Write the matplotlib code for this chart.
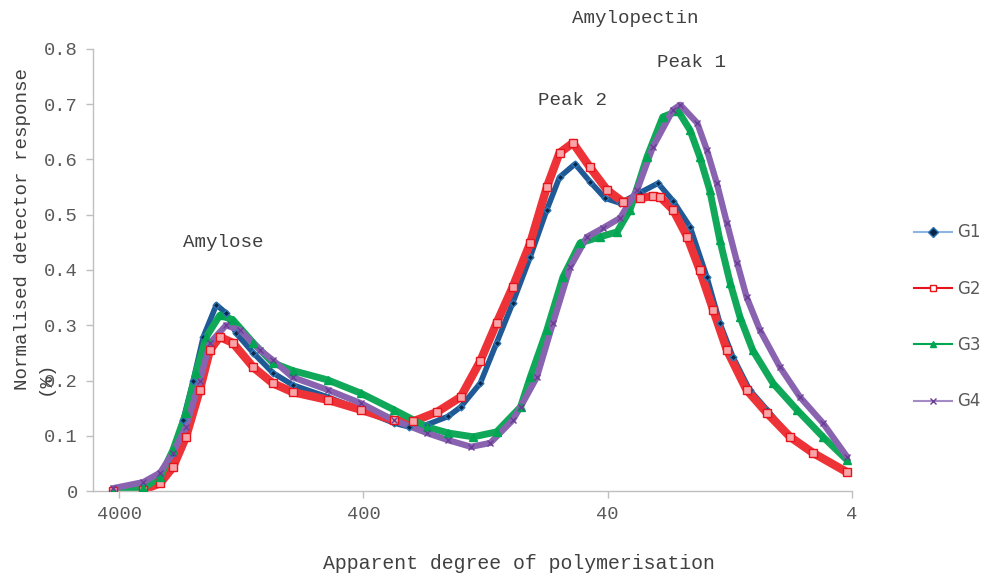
import matplotlib
matplotlib.use("Agg")
import matplotlib.pyplot as plt
import numpy as np

# apparent degree of polymerisation (DP) and normalised response
dp_g1 = [4240, 3190, 2720, 2410, 2190, 1990, 1810, 1600, 1460, 1330, 1130, 940, 780,
         560, 410, 300, 260, 220, 180, 160, 133, 114, 98, 83, 71, 63, 54.4, 47.3,
         41.0, 35.6, 29.5, 24.9, 21.6, 18.4, 15.7, 13.9, 12.3, 10.5, 8.91, 7.17,
         5.78, 4.19]
g1 = [0.002, 0.007, 0.025, 0.069, 0.128, 0.200, 0.279, 0.337, 0.322, 0.286, 0.250,
      0.214, 0.192, 0.170, 0.147, 0.123, 0.116, 0.120, 0.135, 0.152, 0.195, 0.268,
      0.340, 0.424, 0.509, 0.568, 0.592, 0.560, 0.530, 0.521, 0.540, 0.557, 0.525,
      0.478, 0.387, 0.304, 0.243, 0.183, 0.147, 0.098, 0.069, 0.034]

dp_g2 = [4240, 3190, 2720, 2410, 2130, 1870, 1700, 1550, 1370, 1130, 940, 780, 560,
         410, 300, 250, 200, 160, 133, 114, 98, 83, 71, 63, 55.5, 47.3, 40.3, 34.6,
         29.5, 26.1, 24.4, 21.6, 18.9, 16.8, 14.8, 13.0, 10.8, 8.91, 7.17, 5.78, 4.19]
g2 = [0.000, 0.002, 0.014, 0.043, 0.098, 0.183, 0.255, 0.279, 0.268, 0.224, 0.195,
      0.179, 0.165, 0.147, 0.128, 0.126, 0.143, 0.170, 0.235, 0.304, 0.369, 0.449,
      0.550, 0.612, 0.630, 0.586, 0.545, 0.523, 0.530, 0.534, 0.532, 0.509, 0.460,
      0.400, 0.328, 0.255, 0.183, 0.141, 0.098, 0.069, 0.034]

dp_g3 = [4240, 3190, 2720, 2410, 2130, 1940, 1760, 1550, 1370, 1130, 940, 780, 560,
         410, 300, 220, 180, 142, 114, 91, 83, 71, 61, 51.9, 43.0, 36.6, 32.4, 27.6,
         23.8, 20.6, 18.4, 16.8, 15.3, 13.9, 12.6, 11.5, 10.2, 8.42, 6.72, 5.26, 4.19]
g3 = [0.000, 0.005, 0.025, 0.074, 0.141, 0.214, 0.279, 0.318, 0.310, 0.268, 0.232,
      0.218, 0.201, 0.177, 0.147, 0.116, 0.105, 0.098, 0.107, 0.152, 0.206, 0.291,
      0.387, 0.449, 0.460, 0.469, 0.509, 0.605, 0.677, 0.688, 0.653, 0.605, 0.545,
      0.454, 0.376, 0.315, 0.255, 0.195, 0.147, 0.098, 0.056]

dp_g4 = [4240, 3190, 2720, 2410, 2130, 1870, 1700, 1460, 1280, 1060, 940, 780, 560,
         410, 300, 220, 180, 145, 121, 98, 91, 78, 67, 57, 48.6, 41.8, 35.6, 30.3,
         26.1, 21.6, 20.2, 17.2, 15.7, 14.3, 13.0, 11.8, 10.8, 9.52, 7.88, 6.53,
         5.26, 4.19]
g4 = [0.005, 0.016, 0.033, 0.069, 0.116, 0.200, 0.268, 0.300, 0.291, 0.255, 0.237,
      0.206, 0.183, 0.159, 0.128, 0.105, 0.092, 0.080, 0.087, 0.128, 0.152, 0.206,
      0.304, 0.405, 0.460, 0.476, 0.494, 0.545, 0.623, 0.690, 0.699, 0.666, 0.617,
      0.557, 0.485, 0.413, 0.351, 0.291, 0.224, 0.170, 0.123, 0.062]

x_ticks = [4000, 400, 40, 4]
x_tick_labels = ["4000", "400", "40", "4"]
y_ticks = [0, 0.1, 0.2, 0.3, 0.4, 0.5, 0.6, 0.7, 0.8]
y_tick_labels = ["0", "0.1", "0.2", "0.3", "0.4", "0.5", "0.6", "0.7", "0.8"]

mono = "Liberation Mono"
grey = "#595959"
txt = "#404040"

fig = plt.figure(figsize=(9.87, 5.73), dpi=100)
ax = fig.add_axes([0.0942, 0.1431, 0.769, 0.7714])

# (dp, values, label, band colour, band width, marker, face, edge, size)
series = [
    (dp_g1, g1, "G1", "#1F5A96", 4.0, "D", "#0B2545", "#2E75B6", 3.5),
    (dp_g2, g2, "G2", "#EE3338", 6.0, "s", "#F7A5A8", "#E8141C", 5.5),
    (dp_g3, g3, "G3", "#12A85A", 5.0, "^", "#00A651", "#00A651", 5.5),
    (dp_g4, g4, "G4", "#8A63B0", 4.5, "x", "#7F55A5", "#6A3E95", 5),
]
for dp, vals, lab, lc, lw, mk, mf, me, ms in series:
    ax.plot(dp, vals, color=lc, lw=lw, solid_capstyle="round",
            solid_joinstyle="round", zorder=2)
    ax.plot(dp, vals, linestyle="none", marker=mk, markersize=ms,
            markerfacecolor=mf, markeredgecolor=me, markeredgewidth=1.0, zorder=3)

# legend proxies: thin line + marker
handles = []
leg_line = {"G1": "#8DB4E2", "G2": "#E8141C", "G3": "#00A651", "G4": "#A58BC6"}
leg_face = {"G1": "#0B2545", "G2": "white", "G3": "#00A651", "G4": "#7F55A5"}
for dp, vals, lab, lc, lw, mk, mf, me, ms in series:
    h, = ax.plot([], [], color=leg_line[lab], lw=1.5, marker=mk, markersize=5,
                 markerfacecolor=leg_face[lab], markeredgecolor=me)
    handles.append(h)
fig.legend(handles, [s[2] for s in series], loc="center left",
           bbox_to_anchor=(0.911, 0.447), frameon=False, fontsize=12,
           labelspacing=2.3, handlelength=2.3, handletextpad=0.25,
           labelcolor=grey)

ax.set_xscale("log")
ax.set_xlim(5120, 4)
ax.set_ylim(0, 0.8)
ax.set_xticks(x_ticks)
ax.set_xticklabels(x_tick_labels)
ax.xaxis.set_minor_locator(matplotlib.ticker.NullLocator())
ax.set_yticks(y_ticks)
ax.set_yticklabels(y_tick_labels)

for s in ["top", "right"]:
    ax.spines[s].set_visible(False)
for s in ["left", "bottom"]:
    ax.spines[s].set_color("#BFBFBF")
    ax.spines[s].set_linewidth(1.0)
ax.tick_params(axis="both", colors="#BFBFBF", length=5, width=1.0, direction="out",
               labelcolor=grey, labelsize=13.5, pad=6)
for t in ax.get_xticklabels() + ax.get_yticklabels():
    t.set_family(mono)

# annotations
ax.text(1500, 0.449, "Amylose", family=mono, fontsize=13.8, color=txt,
        ha="center", va="center")
ax.text(30.9, 0.856, "Amylopectin", family=mono, fontsize=13.8, color=txt,
        ha="center", va="center", clip_on=False)
ax.text(55.5, 0.706, "Peak 2", family=mono, fontsize=13.8, color=txt,
        ha="center", va="center")
ax.text(18.1, 0.775, "Peak 1", family=mono, fontsize=13.8, color=txt,
        ha="center", va="center")

fig.text(0.526, 0.016, "Apparent degree of polymerisation", family=mono,
         fontsize=14.3, color=txt, ha="center", va="center")
# y label wraps in the original: "(%)" sits on a second line over the 0.2 tick
fig.text(0.0223, 0.319, "Normalised detector response", family=mono,
         fontsize=13.8, color=txt, rotation=90, ha="center", va="bottom")
fig.text(0.0456, 0.311, "(%)", family=mono,
         fontsize=13.8, color=txt, rotation=90, ha="center", va="bottom")

fig.savefig("out.png", dpi=100)
